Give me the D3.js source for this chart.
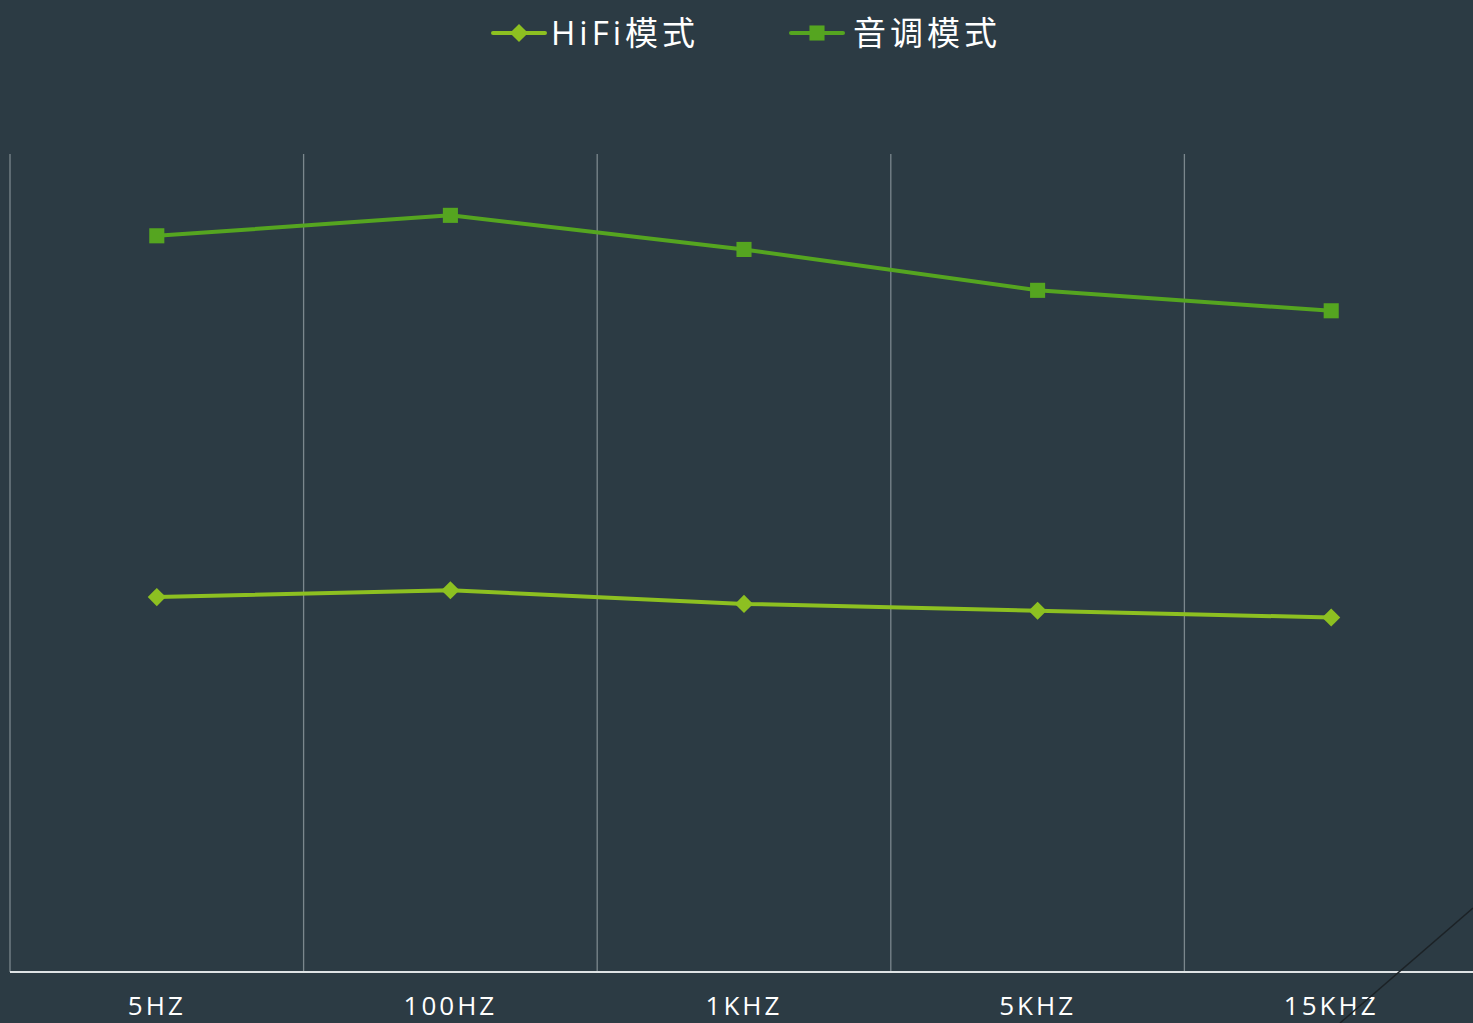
<!DOCTYPE html>
<html>
<head>
<script src="https://d3js.org/d3.v7.min.js"></script>
<title>HiFi 音调</title>
<style>
body { margin: 0; background: #2c3b44; overflow: hidden; }
#root { width: 1473px; height: 1023px; display: block; }
.tick text { fill: #ffffff; }
</style>
</head>
<body>
<svg id="root"></svg>
<script>
let categories = ['5HZ', '100HZ', '1KHZ', '5KHZ', '15KHZ']
let hifiValues = [55, 56, 54, 53, 52]
let toneValues = [108, 111, 106, 100, 97]
let seriesNames = ['HiFi模式', '音调模式']
let seriesColors = ['#8dc021', '#55a520']

let svg = d3.select('#root')
let W = 1473, H = 1023
let plotLeft = 10, plotTop = 154, plotBottom = 972
let bandW = 293.6

let x = d3.scaleBand()
	.domain(categories)
	.range([plotLeft, plotLeft + bandW * categories.length])
	.padding(0)

let y = d3.scaleLinear().domain([0, 120]).range([plotBottom, plotTop])

// vertical grid lines at band edges
let edges = categories.map(c => x(c)).concat([x(categories[categories.length - 1]) + x.bandwidth()])
svg.append('g').selectAll('line').data(edges).enter().append('line')
	.attr('x1', d => d).attr('x2', d => d)
	.attr('y1', plotTop).attr('y2', plotBottom)
	.attr('stroke', '#7b878d').attr('stroke-width', 1.3)

// x axis
let xAxis = svg.append('g')
	.attr('transform', 'translate(0,' + plotBottom + ')')
	.call(d3.axisBottom(x).tickSize(0).tickPadding(20))
xAxis.select('.domain').remove()
xAxis.append('line')
	.attr('x1', plotLeft).attr('x2', W)
	.attr('stroke', '#dfe3e5').attr('stroke-width', 2)
xAxis.selectAll('.tick text')
	.attr('font-family', '"Open Sans", "Noto Sans", sans-serif')
	.attr('font-size', 26)
	.attr('letter-spacing', 3)
	.attr('dy', '0.9em')

let line = d3.line()
	.x((d, i) => x(categories[i]) + x.bandwidth() / 2)
	.y(d => y(d))

let seriesData = [hifiValues, toneValues]
let symTypes = [d3.symbolDiamond2, d3.symbolSquare2]
let symSizes = [210, 290]

seriesData.forEach((vals, k) => {
	svg.append('path').datum(vals)
		.attr('d', line)
		.attr('fill', 'none')
		.attr('stroke', seriesColors[k])
		.attr('stroke-width', 4)

	svg.append('g').selectAll('path').data(vals).enter().append('path')
		.attr('transform', (d, i) => 'translate(' + (x(categories[i]) + x.bandwidth() / 2) + ',' + y(d) + ')')
		.attr('d', d3.symbol().type(symTypes[k]).size(symSizes[k]))
		.attr('fill', seriesColors[k])
		.attr('stroke', 'none')
})

// legend
let legendX = [493, 791]
let legend = svg.append('g').selectAll('g').data(seriesNames).enter().append('g')
	.attr('transform', (d, i) => 'translate(' + legendX[i] + ',33)')

legend.append('line')
	.attr('x1', 0).attr('x2', 52)
	.attr('stroke', (d, i) => seriesColors[i]).attr('stroke-width', 4)
	.attr('stroke-linecap', 'round')
legend.append('path')
	.attr('transform', 'translate(26,0)')
	.attr('d', (d, i) => d3.symbol().type(symTypes[i]).size(symSizes[i])())
	.attr('fill', (d, i) => seriesColors[i])
legend.append('text')
	.attr('x', (d, i) => i == 0 ? 58 : 62)
	.attr('y', 0)
	.attr('dy', '0.36em')
	.attr('fill', '#ffffff')
	.attr('font-family', '"Open Sans", "Noto Sans CJK SC", sans-serif')
	.attr('font-size', 33)
	.attr('letter-spacing', 4)
	.text(d => d)

// stray diagonal line at bottom right
svg.append('line')
	.attr('x1', 1340).attr('y1', 1023)
	.attr('x2', 1473).attr('y2', 908)
	.attr('stroke', '#1c2226').attr('stroke-width', 1.5)
</script>
</body>
</html>
